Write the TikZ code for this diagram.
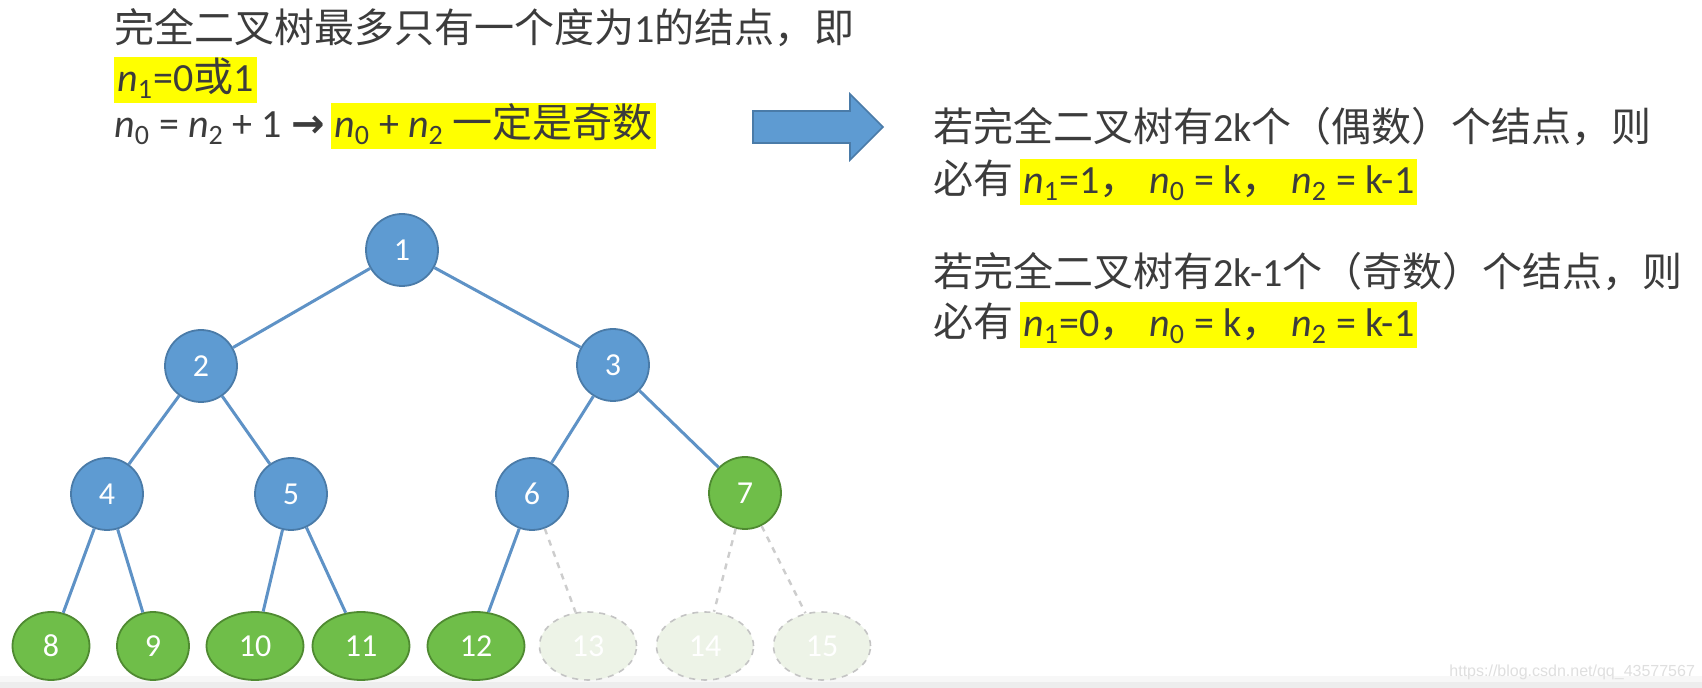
\documentclass[tikz,border=0pt]{standalone}
\usepackage{fontspec}
\setmainfont{Carlito}
\newfontfamily\cjk{Noto Sans CJK SC}
\newfontfamily\symfont{DejaVu Sans}
\newfontfamily\wmfont{Liberation Sans}
\usetikzlibrary{shapes.geometric}
\definecolor{txtgray}{HTML}{3C3C3C}
\definecolor{hlyellow}{HTML}{FFFF00}
\definecolor{nblue}{HTML}{5E9BD2}
\definecolor{nblueb}{HTML}{4A7BA8}
\definecolor{edgeblue}{HTML}{5E92C6}
\definecolor{ngreen}{HTML}{6FBE49}
\definecolor{ngreenb}{HTML}{4F8A31}
\definecolor{ghostfill}{HTML}{EDF3E7}
\definecolor{ghostline}{HTML}{C4C4C4}
\newcommand\myn[1]{\textit{n}\textsubscript{#1}}
\begin{document}
\begin{tikzpicture}[x=0.5pt,y=-0.5pt,
  txt/.style={inner sep=0pt, text=txtgray, font=\fontsize{20pt}{24pt}\selectfont},
  hl/.style={txt, fill=hlyellow, inner xsep=1.5pt, inner ysep=0pt, text height=17.5pt, text depth=5.5pt},
  bnode/.style={circle, fill=nblue, draw=nblueb, line width=0.9pt, minimum size=36pt, inner sep=0pt, text=white, font=\fontsize{16pt}{18pt}\selectfont},
  gnode/.style={ellipse, fill=ngreen, draw=ngreenb, line width=0.9pt, minimum height=34pt, minimum width=48.5pt, inner sep=0pt, text=white, font=\fontsize{16pt}{18pt}\selectfont},
  ghost/.style={ellipse, fill=ghostfill, draw=ghostline, dashed, line width=0.8pt, minimum height=34pt, minimum width=48.5pt, inner sep=0pt, text=white, font=\fontsize{16pt}{18pt}\selectfont},
  edge/.style={draw=edgeblue, line width=1.5pt},
  gedge/.style={draw=ghostline!85, dashed, line width=1.2pt},
  bigarrow/.style={fill=nblue, draw=nblueb, line width=0.8pt}
]
\useasboundingbox (0,0) rectangle (1702,688);
\fill[white] (0,0) rectangle (1702,688);
\fill[gray!6] (0,676) rectangle (1702,682);
\fill[gray!14] (0,682) rectangle (1702,688);

% left text
\node[txt, anchor=base west] (t1) at (114,43) {{\cjk 完全二叉树最多只有一个度为}1{\cjk 的结点，即}};
\node[hl, anchor=base west] (t2) at (114,92) {\myn{1}=0{\cjk 或}1};
\node[txt, anchor=base west] (t3a) at (114,138) {\myn{0} = \myn{2} + 1 {\symfont\bfseries →}};
\node[hl, anchor=base west] (t3b) at (331,138) {\myn{0} + \myn{2} {\cjk 一定是奇数}};

% big arrow
\draw[bigarrow] (753,111) -- (850,111) -- (850,94) -- (883,127) -- (850,160) -- (850,143) -- (753,143) -- cycle;

% right text
\node[txt, anchor=base west] (r1) at (933,142) {{\cjk 若完全二叉树有}2k{\cjk 个（偶数）个结点，则}};
\node[txt, anchor=base west] (r2) at (933,194) {{\cjk 必有}};
\node[hl, anchor=base west] (r2h) at (1020,194) {\myn{1}=1{\cjk ，}\hspace{0.25em}\myn{0} = k{\cjk ，}\hspace{0.25em}\myn{2} = k-1};
\node[txt, anchor=base west] (r3) at (933,287) {{\cjk 若完全二叉树有}2k-1{\cjk 个（奇数）个结点，则}};
\node[txt, anchor=base west] (r4) at (933,337) {{\cjk 必有}};
\node[hl, anchor=base west] (r4h) at (1020,337) {\myn{1}=0{\cjk ，}\hspace{0.25em}\myn{0} = k{\cjk ，}\hspace{0.25em}\myn{2} = k-1};

% tree nodes
\node[bnode] (n1) at (402,250) {1};
\node[bnode] (n2) at (201,366) {2};
\node[bnode] (n3) at (613,365) {3};
\node[bnode] (n4) at (107,494) {4};
\node[bnode] (n5) at (291,494) {5};
\node[bnode] (n6) at (532,494) {6};
\node[gnode, minimum width=36pt, minimum height=36pt] (n7) at (745,493) {7};
\node[gnode, minimum width=38.5pt] (n8) at (51,646) {8};
\node[gnode, minimum width=36pt] (n9) at (153,646) {9};
\node[gnode] (n10) at (255,646) {10};
\node[gnode] (n11) at (361,646) {11};
\node[gnode] (n12) at (476,646) {12};
\node[ghost] (n13) at (588,646) {13};
\node[ghost] (n14) at (705,646) {14};
\node[ghost] (n15) at (822,646) {15};

% edges
\draw[edge] (n1) -- (n2);
\draw[edge] (n1) -- (n3);
\draw[edge] (n2) -- (n4);
\draw[edge] (n2) -- (n5);
\draw[edge] (n3) -- (n6);
\draw[edge] (n3) -- (n7);
\draw[edge] (n4) -- (n8);
\draw[edge] (n4) -- (n9);
\draw[edge] (n5) -- (n10);
\draw[edge] (n5) -- (n11);
\draw[edge] (n6) -- (n12);
\draw[gedge] (n6) -- (n13);
\draw[gedge] (n7) -- (n14);
\draw[gedge] (n7) -- (n15);

% watermark
\node[anchor=base west, inner sep=0pt, text=gray!25, font=\wmfont\fontsize{8pt}{9pt}\selectfont] (wm) at (1449,676) {https://blog.csdn.net/qq\_43577567};
\end{tikzpicture}
\end{document}
